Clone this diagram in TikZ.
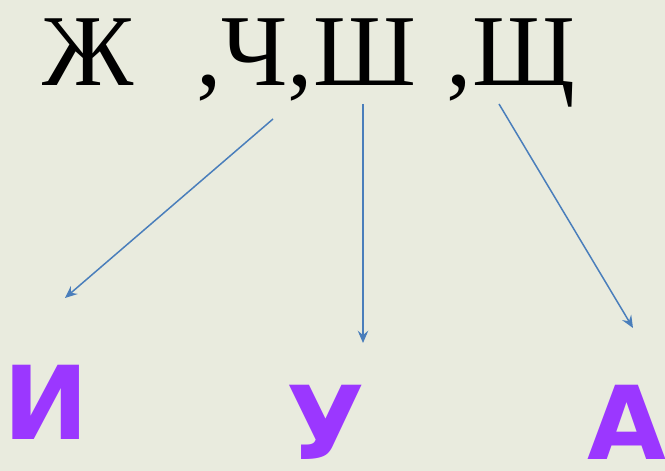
\documentclass[tikz,border=0pt]{standalone}
\usepackage{fontspec}
\setmainfont{Liberation Serif}
\newfontfamily\vowelfont{DejaVu Sans}
\usetikzlibrary{arrows.meta}
\definecolor{bgpaper}{RGB}{233, 235, 222}
\definecolor{arrowblue}{RGB}{74, 126, 187}
\definecolor{vowelpurple}{RGB}{155, 55, 255}

\begin{document}
\begin{tikzpicture}[
    vowel/.style={anchor=base, text=vowelpurple, font=\vowelfont\bfseries\fontsize{58}{58}\selectfont, inner sep=0pt, text depth=0pt},
    link/.style={draw=arrowblue, line width=0.85pt, -{Stealth[length=7pt, width=6pt, inset=2.5pt]}}]
    \fill[bgpaper] (0,0) rectangle (13.3,-9.42);
    \useasboundingbox (0,0) rectangle (13.3,-9.42);

    \node[anchor=base west, inner sep=0pt, font=\fontsize{58}{58}\selectfont] (hushing) at (0.84,-1.72) {Ж\hspace{21pt} ,Ч,Ш\hspace{3pt} ,Щ};

    \node[vowel] (vi) at (0.93,-8.80) {И};
    \node[vowel] (vu) at (6.51,-9.20) {У};
    \node[vowel] (va) at (12.54,-9.20) {А};

    \coordinate (fromleft)  at (5.46,-2.38);
    \coordinate (frommid)   at (7.26,-2.08);
    \coordinate (fromright) at (9.98,-2.08);
    \coordinate (toleft)    at (1.30,-5.96);
    \coordinate (tomid)     at (7.26,-6.86);
    \coordinate (toright)   at (12.66,-6.56);

    \draw[link] (fromleft)  -- (toleft);
    \draw[link] (frommid)   -- (tomid);
    \draw[link] (fromright) -- (toright);
  \end{tikzpicture}
\end{document}
